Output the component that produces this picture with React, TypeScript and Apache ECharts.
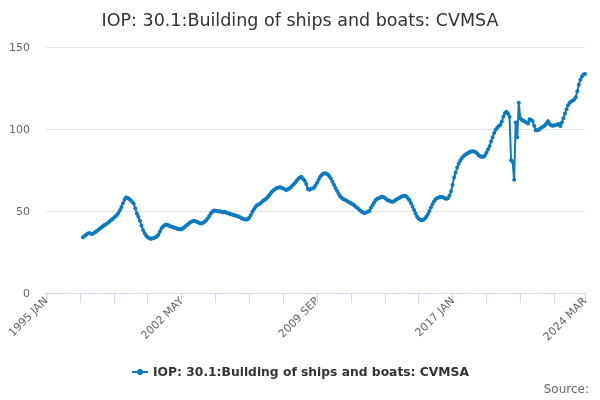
import React, { useEffect, useRef } from "react";
import * as echarts from "echarts";

const titleText = "IOP: 30.1:Building of ships and boats: CVMSA";
const seriesName = "IOP: 30.1:Building of ships and boats: CVMSA";
const sourceText = "Source:";
const monthNames = ["JAN", "FEB", "MAR", "APR", "MAY", "JUN", "JUL", "AUG", "SEP", "OCT", "NOV", "DEC"];
const firstYear = 1995;
const lastYear = 2024;
const lastMonthIndex = 2; // MAR
const yTicks = [0, 50, 100, 150];

// 1995-1996: no data
const v1997 = [34, 34.8, 35.5, 36.2, 36.5, 36.3, 36, 36.5, 37.2, 37.8, 38.5, 39.3];
const v1998 = [40, 40.8, 41.4, 42, 42.6, 43.5, 44.2, 45, 45.8, 46.6, 47.6, 48.8];
const v1999 = [50.5, 52.5, 54.8, 57, 58.3, 58, 57.3, 56.5, 55.5, 54.5, 51.5, 48.5];
const v2000 = [46.5, 44, 41, 38.5, 36.5, 35, 34, 33.5, 33, 33.3, 33.5, 34];
const v2001 = [34.5, 35.5, 37.5, 39.5, 40.5, 41.3, 41.8, 41.5, 41, 40.6, 40.4, 40];
const v2002 = [39.7, 39.3, 39, 38.8, 39, 39.5, 40.3, 41, 41.8, 42.6, 43.3, 43.8];
const v2003 = [43.9, 43.7, 43.4, 43, 42.6, 42.4, 42.8, 43.5, 44.3, 45.5, 47, 48.5];
const v2004 = [49.6, 50.3, 50.2, 50, 49.7, 49.8, 49.5, 49.3, 49.5, 49, 48.7, 48.4];
const v2005 = [48, 47.8, 47.5, 47.2, 47, 46.7, 46.2, 45.6, 45.2, 44.9, 44.8, 45];
const v2006 = [46, 47.5, 49.5, 51, 52.5, 53.5, 54, 54.5, 55.3, 56.2, 56.8, 57.5];
const v2007 = [58.5, 59.8, 61, 62, 62.8, 63.5, 64, 64.3, 64.5, 64.2, 63.8, 63.2];
const v2008 = [62.8, 63.3, 63.8, 64.5, 65.5, 66.5, 67.5, 68.8, 69.8, 70.5, 70.8, 69.5];
const v2009 = [68.5, 66.5, 63.5, 63, 63.5, 63.7, 64.2, 65.5, 67.2, 69, 70.8, 72];
const v2010 = [72.7, 73, 72.8, 72.2, 71.2, 69.8, 68, 66, 64, 62.2, 60.5, 59];
const v2011 = [58, 57.3, 56.8, 56.4, 55.8, 55.2, 54.7, 54.2, 53.6, 52.8, 52, 51.2];
const v2012 = [50.3, 49.6, 49, 48.8, 49.2, 49.6, 50, 52, 53.5, 55, 56.5, 57.5];
const v2013 = [57.8, 58.2, 58.7, 58.6, 58, 57.2, 56.6, 56.2, 55.8, 55.6, 56, 56.7];
const v2014 = [57.3, 57.8, 58.3, 58.8, 59.2, 59.3, 58.8, 57.8, 56.5, 54.8, 52.8, 50.6];
const v2015 = [48.5, 46.5, 45.2, 44.6, 44.4, 44.7, 45.4, 46.5, 48, 50, 52.2, 54.2];
const v2016 = [56, 57.2, 57.9, 58.2, 58.5, 58.6, 58.3, 57.8, 57.5, 57.8, 59.5, 62];
const v2017 = [66, 70.5, 73.5, 76.5, 79, 80.8, 82.2, 83.3, 84.1, 84.8, 85.4, 85.9];
const v2018 = [86.2, 86.4, 86.3, 85.8, 85, 84, 83.4, 83.1, 83.1, 83.8, 85.5, 87.5];
const v2019 = [89.5, 92.5, 95, 97.5, 99.5, 100.8, 101.8, 102.6, 104.5, 107.5, 109.8, 110.5];
const v2020 = [109.5, 107.5, 81, 80, 69, 104, 95, 116, 106.5, 105.5, 105, 104.5];
const v2021 = [104, 103.3, 106, 105.5, 104.8, 102, 99.3, 99.2, 99.5, 100.3, 101, 101.5];
const v2022 = [102.3, 103.5, 104.8, 103, 102.2, 102, 102.3, 102.5, 102.8, 103, 101.8, 104];
const v2023 = [106.5, 109.5, 112, 114.5, 116, 116.8, 117.3, 118, 119.3, 123, 127, 130];
const v2024 = [132, 133.2, 133.5];

const leadingGapMonths = 24;

export default function App() {
  const ref = useRef<HTMLDivElement>(null);

  useEffect(() => {
    if (!ref.current) return;
    const chart = echarts.init(ref.current, null, { renderer: "svg" });

    const categories: string[] = [];
    for (let y = firstYear; y <= lastYear; y++) {
      for (let m = 0; m < 12; m++) {
        if (y === lastYear && m > lastMonthIndex) break;
        categories.push(`${y} ${monthNames[m]}`);
      }
    }
    const gap: (number | null)[] = new Array(leadingGapMonths).fill(null);
    const values = gap.concat(
      v1997, v1998, v1999, v2000, v2001, v2002, v2003, v2004, v2005, v2006,
      v2007, v2008, v2009, v2010, v2011, v2012, v2013, v2014, v2015, v2016,
      v2017, v2018, v2019, v2020, v2021, v2022, v2023, v2024
    );
    const lastIdx = categories.length - 1;
    const font = "DejaVu Sans";
    const color = "#0b7bc1";

    chart.setOption({
      animation: false,
      textStyle: { fontFamily: font },
      title: {
        text: titleText,
        left: "center",
        top: 6,
        textStyle: { fontFamily: font, fontSize: 17.5, fontWeight: "normal", color: "#333333" },
      },
      legend: {
        bottom: 17,
        left: "center",
        itemWidth: 16,
        itemHeight: 8,
        itemGap: 10,
        textStyle: { fontFamily: font, fontSize: 12.3, fontWeight: "bold", color: "#333333" },
        data: [seriesName],
      },
      grid: { left: 46, right: 15, top: 47, bottom: 107, containLabel: false },
      xAxis: {
        type: "category",
        data: categories,
        boundaryGap: false,
        axisLine: { lineStyle: { color: "#ccd6eb" } },
        axisTick: {
          length: 10,
          lineStyle: { color: "#ccd6eb" },
          interval: (i: number) => i % 22 === 0 || i === lastIdx,
        },
        axisLabel: {
          rotate: 45,
          fontFamily: font,
          fontSize: 11,
          color: "#666666",
          margin: 6,
          showMaxLabel: true,
          interval: (i: number) => i % 88 === 0 || i === lastIdx,
        },
        splitLine: { show: false },
      },
      yAxis: {
        type: "value",
        min: yTicks[0],
        max: yTicks[yTicks.length - 1],
        interval: 50,
        axisLine: { show: false },
        axisTick: { show: false },
        axisLabel: { fontFamily: font, fontSize: 11, color: "#666666", margin: 16 },
        splitLine: { lineStyle: { color: "#e6e6e6" } },
      },
      series: [
        {
          name: seriesName,
          type: "line",
          data: values,
          color,
          symbol: "circle",
          symbolSize: 4,
          showSymbol: true,
          showAllSymbol: true,
          lineStyle: { width: 2, color },
          itemStyle: { color },
        },
      ],
      graphic: [
        {
          type: "text",
          right: 11,
          top: 383,
          style: { text: sourceText, fontFamily: font, fontSize: 12, fill: "#666666" },
        },
      ],
    });

    return () => chart.dispose();
  }, []);

  return <div ref={ref} style={{ position: "fixed", left: 0, top: 0, width: 600, height: 400 }} />;
}
